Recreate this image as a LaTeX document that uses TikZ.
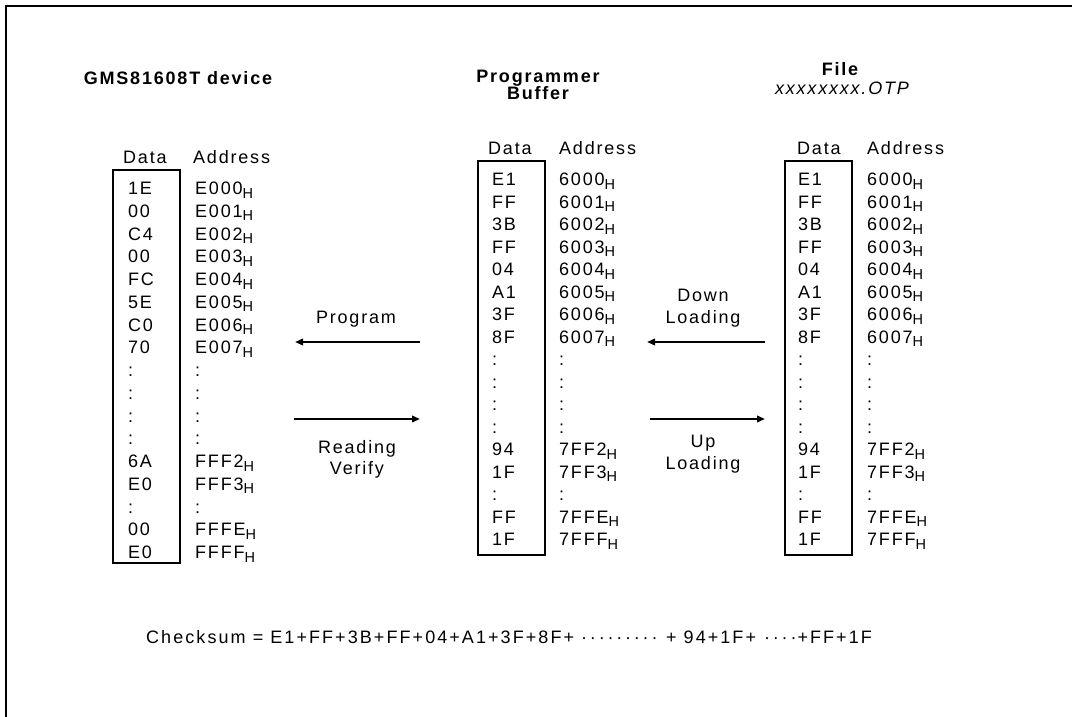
\documentclass[tikz,border=0pt]{standalone}
\usepackage{fontspec}
\setmainfont{Liberation Sans}[LetterSpace=10]
\usetikzlibrary{arrows.meta}
\newcommand\hsub{\raisebox{-3.5pt}{\fontsize{14.5}{14}\selectfont H}}
\newcommand\cdotgap{·\hspace{2.8pt}}
\begin{document}
\begin{tikzpicture}[x=1pt,y=-1pt,
  txt/.style={inner sep=0pt, font=\fontsize{18}{20}\selectfont, anchor=base west},
  ttl/.style={inner sep=0pt, font=\fontsize{18}{20}\selectfont\bfseries, anchor=base},
  lab/.style={inner sep=0pt, font=\fontsize{18}{20}\selectfont, anchor=base},
  membox/.style={draw, line width=2pt, minimum width=67pt, minimum height=393pt, inner sep=0pt},
  flow/.style={line width=2.5pt, -{Triangle[length=8pt 0,width=6.5pt 0]}}]
\useasboundingbox (0,0) rectangle (1072,717);
% frame (top and left edges)
\coordinate (fbl) at (6,717);
\coordinate (ftl) at (6,6);
\coordinate (ftr) at (1072,6);
\draw[line width=2.5pt] (fbl) -- (ftl) -- (ftr);

% titles
\node[ttl] (t1) at (178,84.5) {GMS81608T device};
\node[ttl] (t2a) at (538,82.5) {Programmer};
\node[ttl] (t2b) at (538,99.5) {Buffer};
\node[ttl] (t3a) at (840,75.5) {File};
\node[lab, font=\fontsize{18}{20}\selectfont\itshape] (t3b) at (842,94.5) {xxxxxxxx.OTP};

% headers
\node[txt] (h1d) at (123,163.5) {Data};
\node[txt] (h1a) at (193,163.5) {Address};
\node[txt] (h2d) at (488,154.5) {Data};
\node[txt] (h2a) at (559,154.5) {Address};
\node[txt] (h3d) at (797,154.5) {Data};
\node[txt] (h3a) at (867,154.5) {Address};

% boxes
\node[membox] (box1) at (146.5,366.5) {};
\node[membox, minimum height=394pt] (box2) at (511.5,358) {};
\node[membox, minimum height=394pt] (box3) at (818.5,358) {};

% column 1
\foreach \d/\a [count=\i from 0] in {1E/E000\hsub,00/E001\hsub,C4/E002\hsub,00/E003\hsub,FC/E004\hsub,5E/E005\hsub,C0/E006\hsub,70/E007\hsub,:/:,:/:,:/:,:/:,6A/FFF2\hsub,E0/FFF3\hsub,:/:,00/FFFE\hsub,E0/FFFF\hsub}{
  \node[txt] (c1d\i) at (128,194.5+22.75*\i) {\d};
  \node[txt] (c1a\i) at (195,194.5+22.75*\i) {\a};
}
% column 2 and 3
\foreach \d/\a [count=\i from 0] in {E1/6000\hsub,FF/6001\hsub,3B/6002\hsub,FF/6003\hsub,04/6004\hsub,A1/6005\hsub,3F/6006\hsub,8F/6007\hsub,:/:,:/:,:/:,:/:,94/7FF2\hsub,1F/7FF3\hsub,:/:,FF/7FFE\hsub,1F/7FFF\hsub}{
  \node[txt] (c2d\i) at (492,185.5+22.5*\i) {\d};
  \node[txt] (c2a\i) at (559,185.5+22.5*\i) {\a};
  \node[txt] (c3d\i) at (798,185.5+22.5*\i) {\d};
  \node[txt] (c3a\i) at (867,185.5+22.5*\i) {\a};
}

% arrows
\coordinate (pr1) at (420,342);
\coordinate (pr2) at (295,342);
\coordinate (rv1) at (294,419);
\coordinate (rv2) at (420,419);
\coordinate (dl1) at (765,342);
\coordinate (dl2) at (647,342);
\coordinate (ul1) at (650,419);
\coordinate (ul2) at (765,419);
\draw[flow] (pr1) -- (pr2);
\draw[flow] (rv1) -- (rv2);
\draw[flow] (dl1) -- (dl2);
\draw[flow] (ul1) -- (ul2);

\node[lab] (lp) at (356,323.5) {Program};
\node[lab] (lr1) at (357,453.5) {Reading};
\node[lab] (lr2) at (357,474.5) {Verify};
\node[lab] (ld1) at (703,301.5) {Down};
\node[lab] (ld2) at (703,323.5) {Loading};
\node[lab] (lu1) at (703,447.5) {Up};
\node[lab] (lu2) at (703,469.5) {Loading};

% checksum
\node[txt, font=\fontsize{18}{20}\selectfont\addfontfeatures{LetterSpace=11.5}] (cs) at (146,643.5) {Checksum = E1+FF+3B+FF+04+A1+3F+8F+ \cdotgap\cdotgap\cdotgap\cdotgap\cdotgap\cdotgap\cdotgap\cdotgap·\hspace{1.5pt} + 94+1F+ \hspace{1pt}\cdotgap\cdotgap\cdotgap·\hspace{1pt}+FF+1F};
\end{tikzpicture}
\end{document}
